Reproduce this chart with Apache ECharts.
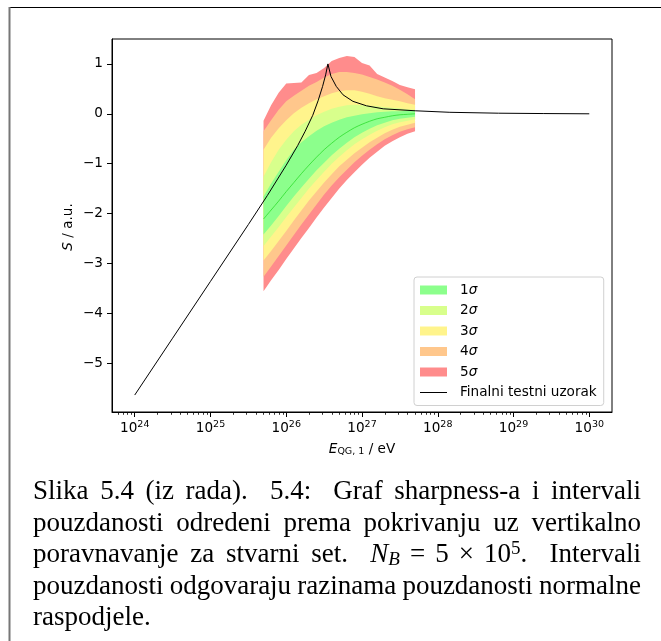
<!DOCTYPE html>
<html><head><meta charset="utf-8">
<script src="https://cdn.jsdelivr.net/npm/echarts@6/dist/echarts.min.js"></script>
<style>html,body{margin:0;padding:0;background:#fff;}#c{width:661px;height:641px;}</style>
</head><body><div id="c"></div>
<script>
// ---- data (x values are log10 of E_QG,1 in eV) ----
const bandLogE = [25.7, 25.8, 25.9, 26.0, 26.1, 26.2, 26.3, 26.4, 26.5, 26.6, 26.7, 26.8, 26.9, 27.0, 27.1, 27.2, 27.3, 27.4, 27.5, 27.6, 27.7];
const median = [-2.11, -1.93, -1.75, -1.56, -1.38, -1.20, -1.03, -0.87, -0.72, -0.59, -0.47, -0.37, -0.28, -0.21, -0.15, -0.10, -0.07, -0.04, -0.02, -0.01, 0.0];
const hi1 = [-1.66, -1.40, -1.16, -0.93, -0.72, -0.57, -0.45, -0.34, -0.25, -0.18, -0.12, -0.07, -0.04, -0.01, 0.01, 0.03, 0.04, 0.05, 0.05, 0.06, 0.06];
const lo1 = [-2.42, -2.24, -2.05, -1.85, -1.66, -1.48, -1.30, -1.13, -0.98, -0.83, -0.70, -0.58, -0.47, -0.38, -0.30, -0.23, -0.18, -0.13, -0.10, -0.08, -0.06];
const hi2 = [-1.26, -0.97, -0.72, -0.52, -0.35, -0.22, -0.12, -0.03, 0.04, 0.10, 0.14, 0.17, 0.18, 0.17, 0.16, 0.15, 0.13, 0.12, 0.11, 0.09, 0.08];
const lo2 = [-2.65, -2.46, -2.27, -2.07, -1.88, -1.69, -1.50, -1.33, -1.16, -1.00, -0.86, -0.73, -0.61, -0.51, -0.42, -0.34, -0.27, -0.21, -0.17, -0.14, -0.11];
const hi3 = [-0.72, -0.48, -0.29, -0.13, 0.01, 0.12, 0.21, 0.29, 0.35, 0.41, 0.45, 0.47, 0.47, 0.44, 0.40, 0.35, 0.31, 0.28, 0.25, 0.21, 0.18];
const lo3 = [-2.94, -2.75, -2.55, -2.35, -2.14, -1.94, -1.74, -1.56, -1.38, -1.21, -1.05, -0.92, -0.79, -0.68, -0.57, -0.48, -0.39, -0.32, -0.26, -0.22, -0.18];
const hi4 = [-0.35, -0.13, 0.08, 0.25, 0.36, 0.46, 0.56, 0.64, 0.73, 0.80, 0.84, 0.84, 0.82, 0.79, 0.74, 0.69, 0.63, 0.56, 0.48, 0.39, 0.29];
const lo4 = [-3.27, -3.06, -2.85, -2.64, -2.43, -2.22, -2.02, -1.82, -1.62, -1.44, -1.27, -1.12, -0.97, -0.84, -0.72, -0.61, -0.51, -0.43, -0.36, -0.31, -0.27];
const hi5 = [-0.14, 0.17, 0.42, 0.61, 0.62, 0.63, 0.78, 0.82, 0.92, 1.06, 1.12, 1.16, 1.14, 1.02, 0.97, 0.80, 0.73, 0.66, 0.58, 0.53, 0.49];
const lo5 = [-3.56, -3.34, -3.13, -2.91, -2.70, -2.49, -2.29, -2.08, -1.88, -1.69, -1.50, -1.33, -1.17, -1.02, -0.88, -0.76, -0.64, -0.55, -0.47, -0.40, -0.35];

const curveLogE = [24.0, 24.5, 25.0, 25.5, 25.75, 26.0, 26.15, 26.25, 26.35, 26.42, 26.48, 26.52, 26.55, 26.59, 26.66, 26.75, 26.88, 27.06, 27.28, 27.71, 28.16, 28.8, 29.4, 30.0];
const curveS = [-5.64, -4.50, -3.36, -2.22, -1.64, -1.03, -0.64, -0.35, -0.03, 0.26, 0.55, 0.78, 1.0, 0.75, 0.55, 0.38, 0.25, 0.16, 0.10, 0.06, 0.03, 0.012, 0.005, 0.0];

const xTickExp = [24, 25, 26, 27, 28, 29, 30];
const yTicks = [-5, -4, -3, -2, -1, 0, 1];
const bandNames = ['1σ', '2σ', '3σ', '4σ', '5σ'];
const lineName = 'Finalni testni uzorak';
const captionLines = [
  ['Slika', '5.4', '(iz', 'rada).', '5.4:', 'Graf', 'sharpness-a', 'i', 'intervali'],
  ['pouzdanosti', 'odredeni', 'prema', 'pokrivanju', 'uz', 'vertikalno'],
  ['poravnavanje', 'za', 'stvarni', 'set.', '$NB', '$=', '$5', '$×', '$10^5.', 'Intervali'],
  ['pouzdanosti', 'odgovaraju', 'razinama', 'pouzdanosti', 'normalne'],
  ['raspodjele.']
];

// ---- layout ----
const SANS = 'DejaVu Sans';
const FS = 13.6;
const bandColors = ['#8cff8c', '#d8ff8c', '#fff48c', '#ffc78c', '#ff8c8c'];
const his = [hi1, hi2, hi3, hi4, hi5];
const los = [lo1, lo2, lo3, lo4, lo5];

const minorTicks = [];
for (let n = 23; n <= 30; n++) for (let k = 2; k <= 9; k++) {
  const v = n + Math.log10(k);
  if (v > 23.7 && v < 30.3) minorTicks.push(v);
}

function bandSeries(k) {
  const lo = los[k], hi = his[k];
  return {
    type: 'custom', name: bandNames[k], coordinateSystem: 'cartesian2d', silent: true,
    itemStyle: { color: bandColors[k] }, z: 2,
    data: bandLogE.map((x, i) => [x, lo[i], hi[i]]),
    encode: { x: 0, y: [1, 2] },
    renderItem: function (params, api) {
      if (params.dataIndex !== 0) return null;
      const pts = [];
      for (let i = 0; i < bandLogE.length; i++) pts.push(api.coord([bandLogE[i], hi[i]]));
      for (let i = bandLogE.length - 1; i >= 0; i--) pts.push(api.coord([bandLogE[i], lo[i]]));
      return { type: 'polygon', shape: { points: pts, smooth: 0 }, style: { fill: bandColors[k] } };
    }
  };
}

const series = [];
for (let k = 4; k >= 0; k--) series.push(bandSeries(k));
series.push({
  type: 'line', data: bandLogE.map((x, i) => [x, median[i]]), symbol: 'none', silent: true, smooth: 0.3,
  lineStyle: { color: '#1fd81f', width: 0.7 }, z: 3
});
series.push({
  type: 'line', name: lineName, data: curveLogE.map((x, i) => [x, curveS[i]]), symbol: 'none', silent: true,
  lineStyle: { color: '#000', width: 1 }, itemStyle: { color: '#000' }, z: 4
});

// ---- caption (justified) ----
const CFS = 27, SERIF = 'Liberation Serif';
const cv = document.createElement('canvas').getContext('2d');
function mw(t, size, style) { cv.font = (style || '') + ' ' + size + 'px "' + SERIF + '"'; return cv.measureText(t).width; }
function wordSpec(w) {
  if (w === '$NB') return { text: '{it|N}{sub|B}', width: mw('N', CFS, 'italic') + mw('B', 19, 'italic'), math: true };
  if (w === '$10^5.') return { text: '10{sup|5}.', width: mw('10', CFS) + mw('5', 19) + mw('.', CFS), math: true };
  if (w[0] === '$') return { text: w.slice(1), width: mw(w.slice(1), CFS), math: true };
  return { text: w, width: mw(w, CFS), math: false };
}
const capRich = {
  it: { fontStyle: 'italic', fontFamily: SERIF, fontSize: CFS },
  sub: { fontStyle: 'italic', fontFamily: SERIF, fontSize: 19, padding: [9, 0, 0, 0] },
  sup: { fontFamily: SERIF, fontSize: 19, padding: [0, 0, 12, 0] }
};
const graphics = [];
const X0 = 33, X1 = 641, Y0 = 492, LH = 31.6;
captionLines.forEach((line, li) => {
  const specs = line.map(wordSpec);
  const total = specs.reduce((a, s) => a + s.width, 0);
  const gaps = [];
  for (let i = 0; i < specs.length - 1; i++) {
    const a = specs[i], b = specs[i + 1];
    if (a.math && b.math) gaps.push({ fixed: 10 });
    else gaps.push({ w: /[.:]$/.test(line[i]) ? 1.9 : 1 });
  }
  const last = li === captionLines.length - 1;
  let fixedSum = 0, wSum = 0;
  gaps.forEach(g => { if (g.fixed) fixedSum += g.fixed; else wSum += g.w; });
  const unit = last ? mw(' ', CFS) : (X1 - X0 - total - fixedSum) / (wSum || 1);
  let x = X0;
  specs.forEach((s, i) => {
    graphics.push({
      type: 'text', x: x, y: Y0 + li * LH, silent: true,
      style: { text: s.text, fontFamily: SERIF, fontSize: CFS, fill: '#000', textVerticalAlign: 'middle', rich: capRich }
    });
    if (i < gaps.length) x += s.width + (gaps[i].fixed ? gaps[i].fixed : gaps[i].w * unit);
  });
});
// page frame
graphics.push({ type: 'line', shape: { x1: 9, y1: 7.5, x2: 661, y2: 7.5 }, style: { stroke: '#000', lineWidth: 1.2 }, silent: true });
graphics.push({ type: 'line', shape: { x1: 9.5, y1: 7, x2: 9.5, y2: 641 }, style: { stroke: '#777', lineWidth: 2 }, silent: true });
// axis names
graphics.push({
  type: 'text', x: 362, y: 449, silent: true,
  style: {
    text: '{e|E}{sub|QG, 1} / eV', fontFamily: SANS, fontSize: FS, fill: '#000', textAlign: 'center', textVerticalAlign: 'middle',
    rich: { e: { fontStyle: 'italic', fontFamily: SANS, fontSize: FS }, sub: { fontFamily: SANS, fontSize: 9.5, padding: [6, 0, 0, 0] } }
  }
});
graphics.push({
  type: 'text', x: 68, y: 227, rotation: Math.PI / 2, silent: true,
  style: {
    text: '{s|S} / a.u.', fontFamily: SANS, fontSize: FS, fill: '#000', textAlign: 'center', textVerticalAlign: 'middle',
    rich: { s: { fontStyle: 'italic', fontFamily: SANS, fontSize: FS } }
  }
});

const option = {
  animation: false,
  backgroundColor: '#fff',
  textStyle: { fontFamily: SANS },
  grid: { left: 112, top: 39, right: 49, bottom: 229, show: true, borderColor: '#000', borderWidth: 1, backgroundColor: 'transparent' },
  xAxis: [{
    type: 'value', min: 23.7, max: 30.3, position: 'bottom',
    axisLine: { show: true, onZero: false, lineStyle: { color: '#000', width: 1 } },
    axisTick: { show: true, length: 5, lineStyle: { color: '#000', width: 1 }, customValues: xTickExp },
    axisLabel: {
      customValues: xTickExp, margin: 7.5, color: '#000', fontFamily: SANS, fontSize: FS,
      formatter: v => '10{sup|' + Math.round(v) + '}',
      rich: { sup: { fontFamily: SANS, fontSize: 9.5, padding: [0, 0, 8, 0] } }
    },
    splitLine: { show: false }
  }, {
    type: 'value', min: 23.7, max: 30.3, position: 'bottom', gridIndex: 0,
    axisLine: { show: false, onZero: false },
    axisTick: { show: true, length: 2.8, lineStyle: { color: '#000', width: 0.8 }, customValues: minorTicks },
    axisLabel: { show: false }, splitLine: { show: false }
  }],
  yAxis: {
    type: 'value', min: -5.98, max: 1.5,
    axisLine: { show: true, onZero: false, lineStyle: { color: '#000', width: 1 } },
    axisTick: { show: true, length: 5, lineStyle: { color: '#000', width: 1 }, customValues: yTicks },
    axisLabel: {
      customValues: yTicks, margin: 9, color: '#000', fontFamily: SANS, fontSize: FS,
      formatter: v => (v < 0 ? '\u2212' + Math.abs(v) : String(v))
    },
    splitLine: { show: false }
  },
  legend: {
    orient: 'vertical', left: 414, top: 277,
    backgroundColor: 'rgba(255,255,255,0.85)', borderColor: '#d0d0d0', borderWidth: 1, borderRadius: 3,
    padding: [5.5, 7, 5.5, 6], itemWidth: 27, itemHeight: 9, itemGap: 5.5,
    textStyle: { fontFamily: SANS, fontSize: FS, color: '#000', lineHeight: 15, padding: [0, 0, 0, 8],
      rich: { g: { fontStyle: 'italic', fontFamily: SANS, fontSize: FS, lineHeight: 15 } } },
    formatter: n => n === lineName ? n : n.replace('σ', '{g|σ}'),
    selectedMode: false,
    data: bandNames.map(n => ({ name: n, icon: 'rect' })).concat([{
      name: lineName, icon: 'path://M0,0L27,0L27,0Z M0,3.9L27,3.9L27,5.1L0,5.1Z M0,9L27,9L27,9Z', itemStyle: { color: '#000' }
    }])
  },
  graphic: graphics,
  series: series
};
const chart = echarts.init(document.getElementById('c'), null, { renderer: 'canvas' });
chart.setOption(option);
</script>
</body></html>
